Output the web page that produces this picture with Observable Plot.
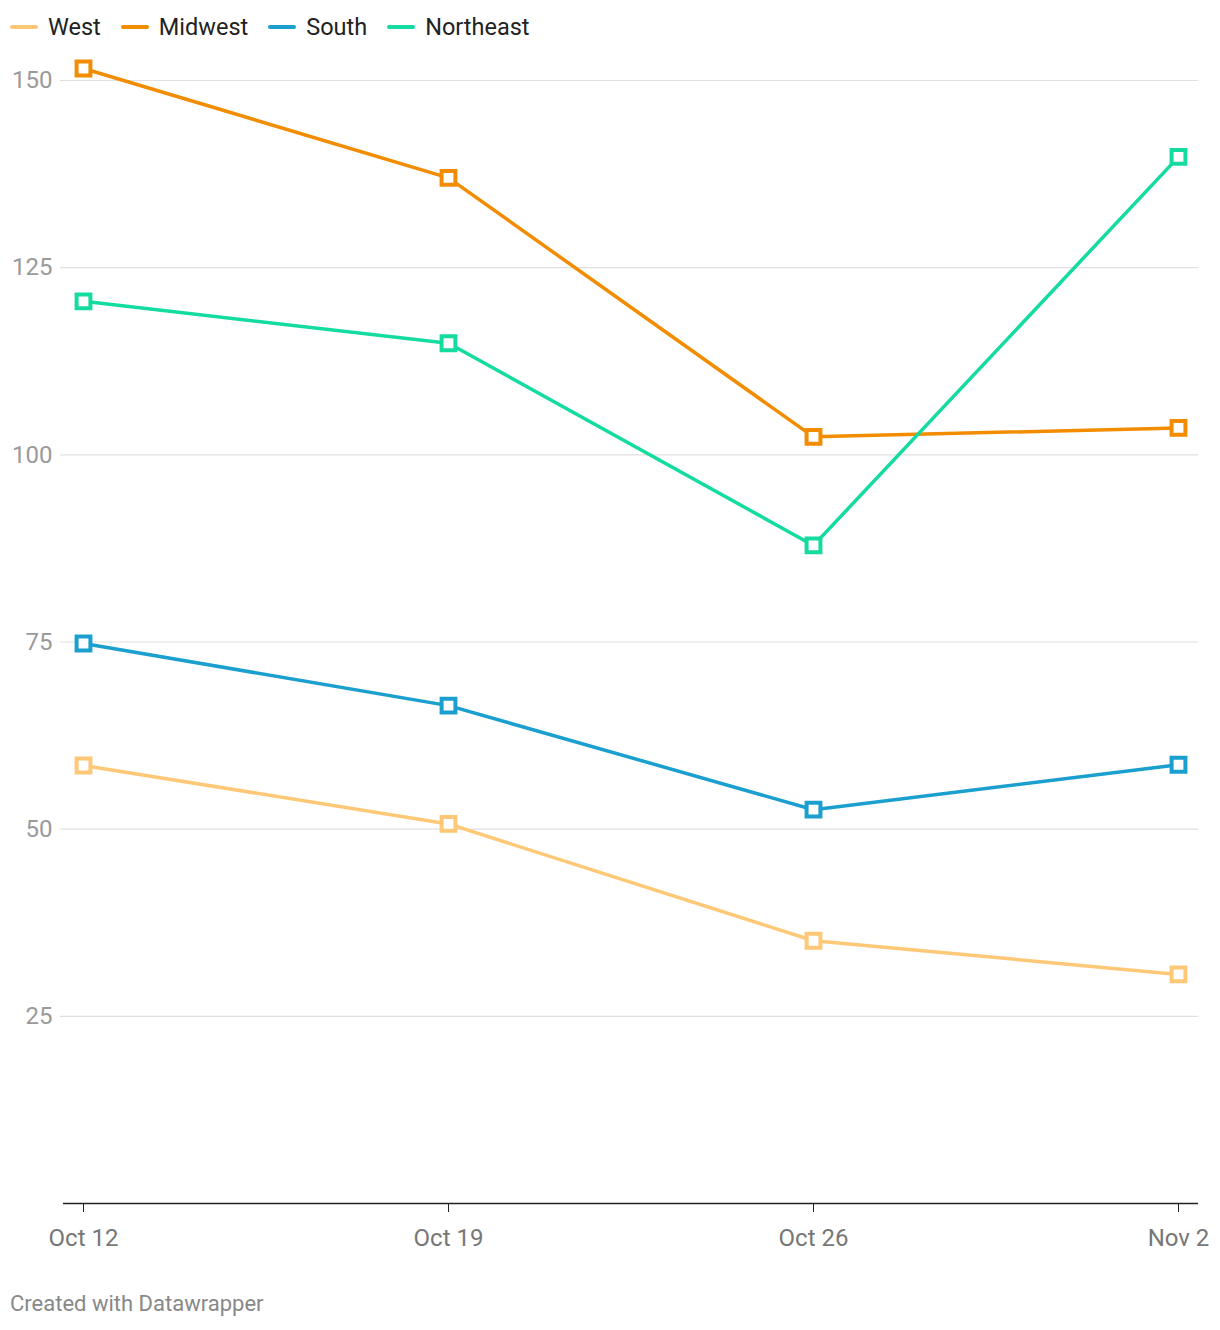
<!DOCTYPE html>
<html>
<head>
<meta charset="utf-8">
<script src="https://cdn.jsdelivr.net/npm/d3@7"></script>
<script src="https://cdn.jsdelivr.net/npm/@observablehq/plot@0.6"></script>
<style>
  html, body { margin: 0; padding: 0; background: #fff; }
  body { width: 1220px; height: 1330px; font-family: Roboto, "Noto Sans", sans-serif; position: relative; }
  #legend { position: absolute; left: 10px; top: 12px; display: flex; gap: 0; font-size: 23.5px; color: #222; line-height: 30px; }
  .item { display: flex; align-items: center; margin-right: 20px; }
  .sw { width: 28px; height: 4px; border-radius: 2px; margin-right: 10px; }
  #chart { position: absolute; left: 0; top: 50px; }
  #caption { position: absolute; left: 10px; top: 1291px; font-size: 22px; color: #888; }
</style>
</head>
<body>
<div id="legend"></div>
<div id="chart"></div>
<div id="caption">Created with Datawrapper</div>
<script>
const dates = ["Oct 12", "Oct 19", "Oct 26", "Nov 2"];
const regions = ["West", "Midwest", "South", "Northeast"];
const colors = ["#fec877", "#f28c00", "#1a9fcf", "#14dba0"];
const west = [58.5, 50.7, 35.1, 30.6];
const midwest = [151.6, 137.0, 102.4, 103.6];
const south = [74.8, 66.5, 52.6, 58.6];
const northeast = [120.5, 114.9, 87.9, 139.8];
const yTicks = [25, 50, 75, 100, 125, 150];

const series = [west, midwest, south, northeast];
const data = [];
regions.forEach((r, i) => {
  dates.forEach((d, j) => data.push({region: r, date: d, value: series[i][j]}));
});

const legend = document.getElementById("legend");
regions.forEach((r, i) => {
  const it = document.createElement("div");
  it.className = "item";
  it.innerHTML = `<span class="sw" style="background:${colors[i]}"></span><span>${r}</span>`;
  legend.appendChild(it);
});

const chart = Plot.plot({
  width: 1220,
  height: 1215,
  marginLeft: 60,
  marginRight: 22,
  marginTop: 30,
  marginBottom: 62,
  style: {fontFamily: "Roboto, sans-serif", fontSize: "24px", background: "#fff"},
  x: {type: "point", domain: dates, padding: 0, insetLeft: 22, insetRight: 19, label: null},
  y: {domain: [0, 150], label: null},
  color: {domain: regions, range: colors},
  marks: [
    Plot.ruleY(yTicks, {stroke: "#e0e0e0", strokeWidth: 1.2}),
    Plot.axisY(yTicks, {tickSize: 0, tickPadding: 8, fill: "#9a9a9a", fontSize: 24, label: null}),
    Plot.ruleY([0], {stroke: "#222", strokeWidth: 1.5, insetLeft: 3}),
    Plot.axisX({tickSize: 9, tickPadding: 16, stroke: "#222", fill: "#777", fontSize: 24, label: null}),
    Plot.line(data, {x: "date", y: "value", z: "region", stroke: "region", strokeWidth: 3.5, curve: "linear"}),
    Plot.dot(data, {x: "date", y: "value", stroke: "region", fill: "#fff", symbol: "square", r: 7.8, strokeWidth: 4})
  ]
});
document.getElementById("chart").appendChild(chart);
</script>
</body>
</html>
